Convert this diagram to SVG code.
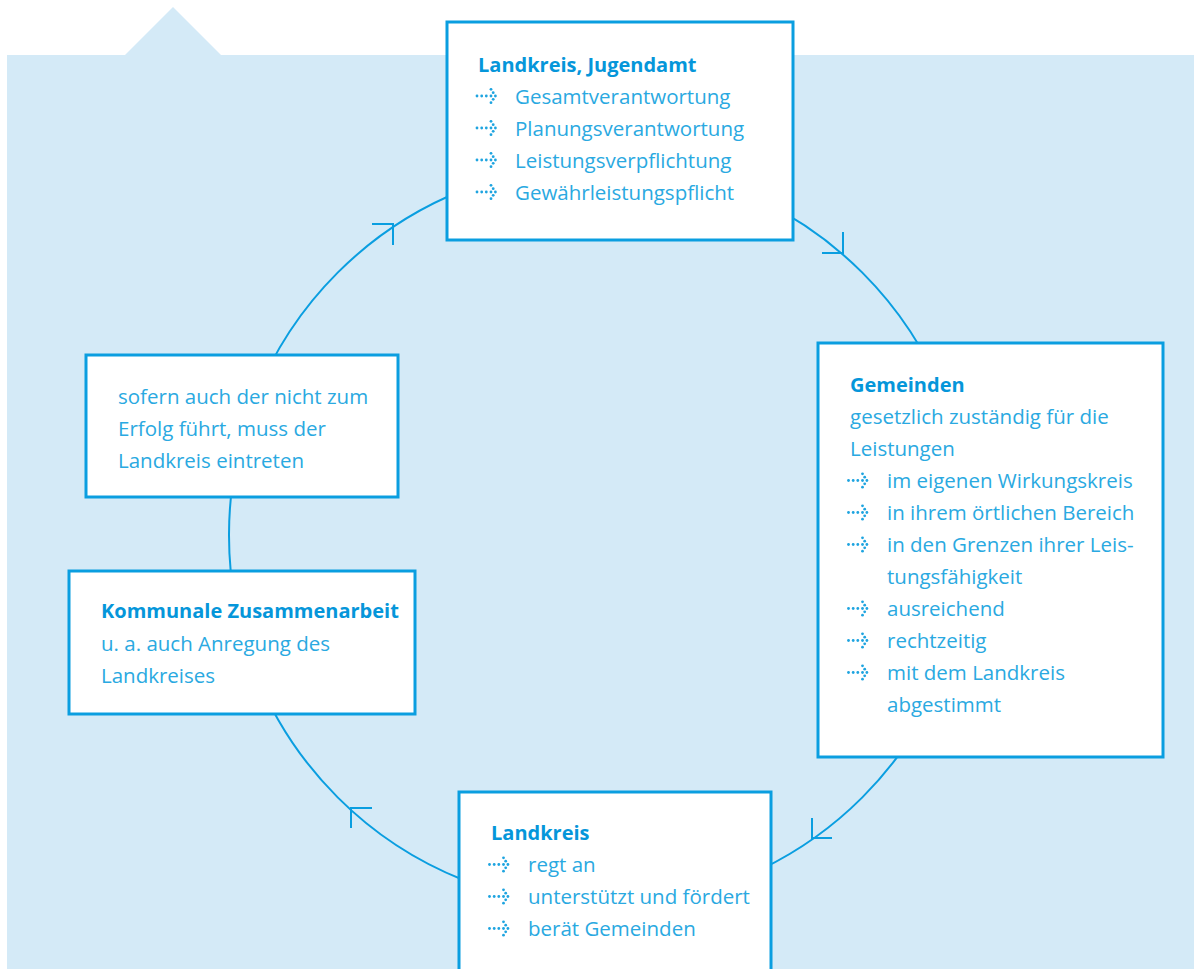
<svg xmlns="http://www.w3.org/2000/svg" xmlns:xlink="http://www.w3.org/1999/xlink" width="1194" height="969" viewBox="0 0 1194 969">
<style>
.box{fill:#ffffff;stroke:#0a9ee0;stroke-width:3}
.conn{fill:none;stroke:#0a9ee0;stroke-width:2}
.t{font-family:"Open Sans","Noto Sans","Liberation Sans",sans-serif;font-size:20.5px;fill:#2aa9e1}
.h{font-family:"Open Sans","Noto Sans","Liberation Sans",sans-serif;font-size:20px;font-weight:bold;fill:#0596da}
.dot{fill:#1ea4e0}
</style>
<defs>
<g id="bl">
<circle class="dot" cx="0" cy="0" r="1.4"/>
<circle class="dot" cx="4.7" cy="0" r="1.4"/>
<circle class="dot" cx="9.3" cy="0" r="1.4"/>
<circle class="dot" cx="14" cy="0" r="1.4"/>
<circle class="dot" cx="14" cy="-6.7" r="1.4"/>
<circle class="dot" cx="14" cy="6.7" r="1.4"/>
<circle class="dot" cx="16.2" cy="-3.3" r="1.4"/>
<circle class="dot" cx="16.2" cy="3.3" r="1.4"/>
<circle class="dot" cx="18.4" cy="0" r="1.4"/>
</g>
</defs>
<polygon points="7,55 125,55 173,7 221,55 1194,55 1194,969 7,969" fill="#d4eaf7"/>
<g id="connectors">
<circle class="conn" cx="600" cy="535" r="371"/>
<path class="conn" d="M372,224 H393 V245"/>
<path class="conn" d="M822,253 H843 V232"/>
<path class="conn" d="M832,838 H812 V818"/>
<path class="conn" d="M372,808 H351 V828"/>
</g>
<g id="node-jugendamt">
<rect class="box" x="447" y="22" width="346" height="218"/>
<text class="h" x="478" y="72">Landkreis, Jugendamt</text>
<use xlink:href="#bl" x="477" y="96"/>
<use xlink:href="#bl" x="477" y="128"/>
<use xlink:href="#bl" x="477" y="160"/>
<use xlink:href="#bl" x="477" y="192"/>
<text class="t" x="515" y="103.5">Gesamtverantwortung</text>
<text class="t" x="515" y="135.5">Planungsverantwortung</text>
<text class="t" x="515" y="167.5">Leistungsverpflichtung</text>
<text class="t" x="515" y="199.5">Gewährleistungspflicht</text>
</g>
<g id="node-gemeinden">
<rect class="box" x="818" y="343" width="345" height="414"/>
<text class="h" x="850" y="392">Gemeinden</text>
<text class="t" x="850" y="424">gesetzlich zuständig für die</text>
<text class="t" x="850" y="456">Leistungen</text>
<use xlink:href="#bl" x="848.5" y="480.5"/>
<use xlink:href="#bl" x="848.5" y="512.5"/>
<use xlink:href="#bl" x="848.5" y="544.5"/>
<use xlink:href="#bl" x="848.5" y="608.5"/>
<use xlink:href="#bl" x="848.5" y="640.5"/>
<use xlink:href="#bl" x="848.5" y="672.5"/>
<text class="t" x="887" y="488">im eigenen Wirkungskreis</text>
<text class="t" x="887" y="520">in ihrem örtlichen Bereich</text>
<text class="t" x="887" y="552">in den Grenzen ihrer Leis-</text>
<text class="t" x="887" y="584">tungsfähigkeit</text>
<text class="t" x="887" y="616">ausreichend</text>
<text class="t" x="887" y="648">rechtzeitig</text>
<text class="t" x="887" y="680">mit dem Landkreis</text>
<text class="t" x="887" y="712">abgestimmt</text>
</g>
<g id="node-landkreis">
<rect class="box" x="459" y="792" width="312" height="190"/>
<text class="h" x="491" y="840">Landkreis</text>
<use xlink:href="#bl" x="489.5" y="864.5"/>
<use xlink:href="#bl" x="489.5" y="896.5"/>
<use xlink:href="#bl" x="489.5" y="928.5"/>
<text class="t" x="528" y="872">regt an</text>
<text class="t" x="528" y="904">unterstützt und fördert</text>
<text class="t" x="528" y="936">berät Gemeinden</text>
</g>
<g id="node-kommunal">
<rect class="box" x="69" y="571" width="346" height="143"/>
<text class="h" x="101" y="618">Kommunale Zusammenarbeit</text>
<text class="t" x="101" y="650.5">u. a. auch Anregung des</text>
<text class="t" x="101" y="683">Landkreises</text>
</g>
<g id="node-eintreten">
<rect class="box" x="86" y="355" width="312" height="142"/>
<text class="t" x="118" y="404">sofern auch der nicht zum</text>
<text class="t" x="118" y="436">Erfolg führt, muss der</text>
<text class="t" x="118" y="468">Landkreis eintreten</text>
</g>
</svg>
